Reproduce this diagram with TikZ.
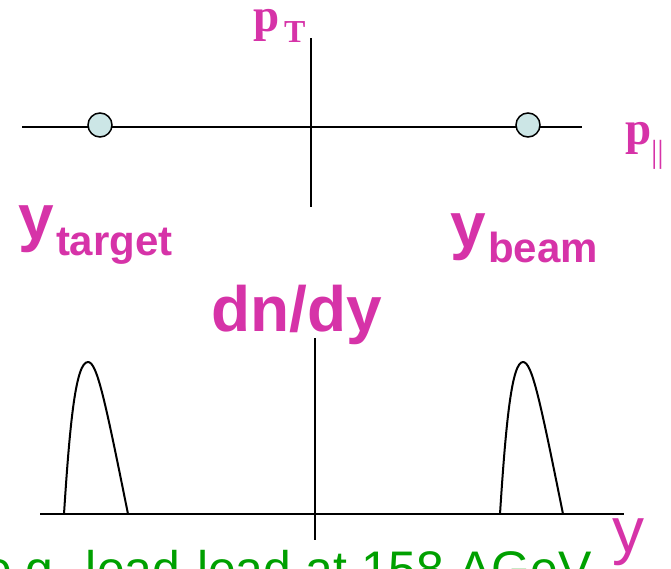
\documentclass[tikz,border=0pt]{standalone}
\usepackage{fontspec}
\setmainfont{Liberation Serif}
\newfontfamily\arialf{Liberation Sans}
\newfontfamily\timesf{Liberation Serif}
\definecolor{mag}{RGB}{214,51,168}
\definecolor{grn}{RGB}{0,160,0}
\definecolor{dotfill}{RGB}{204,230,230}
\tikzset{
  axis/.style={line width=1.5pt, black},
  peak/.style={line width=2pt, black, line join=round},
  dot/.style={circle, draw=black, line width=1.5pt, fill=dotfill, minimum size=24pt, inner sep=0pt},
  lbl/.style={inner sep=0pt, outer sep=0pt, anchor=base west, text=mag},
}
\begin{document}
\begin{tikzpicture}[x=1pt,y=-1pt]
\useasboundingbox (0,0) rectangle (671,568);
\clip (0,0) rectangle (671,568);
% top axes
\coordinate (tl) at (22,127);
\coordinate (tr) at (582,127);
\coordinate (tt) at (311,38);
\coordinate (tb) at (311,207);
\draw[axis] (tl) -- (tr);
\draw[axis] (tt) -- (tb);
\node[dot] (c1) at (100,125) {};
\node[dot] (c2) at (528,125) {};
% top labels
\node[lbl] (pT) at (253,31) {\timesf\bfseries\fontsize{47}{47}\selectfont p};
\node[lbl] (pTs) at (284,42) {\timesf\bfseries\fontsize{32}{32}\selectfont T};
\node[lbl] (pL) at (625,144) {\timesf\bfseries\fontsize{47}{47}\selectfont p};
\node[lbl] (pLs) at (651,162) {\timesf\fontsize{32}{32}\selectfont ||};
\node[lbl] (yt) at (18,239) {\arialf\bfseries\fontsize{64}{64}\selectfont y};
\node[lbl] (yts) at (56,255) {\arialf\bfseries\fontsize{42}{42}\selectfont target};
\node[lbl] (yb) at (450,247) {\arialf\bfseries\fontsize{64}{64}\selectfont y};
\node[lbl] (ybs) at (488,262) {\arialf\bfseries\fontsize{42}{42}\selectfont beam};
\node[lbl] (dndy) at (211,331) {\arialf\bfseries\fontsize{64}{64}\selectfont dn/dy};
% bottom axes
\coordinate (bl) at (40,514);
\coordinate (br) at (624,514);
\coordinate (bt) at (315,338);
\coordinate (bb) at (315,540);
\draw[axis] (bl) -- (br);
\draw[axis] (bt) -- (bb);
% peaks
\draw[peak] (64,514) .. controls (70,420) and (76,362) .. (88,362)
            .. controls (97,362) and (105,400) .. (128,514);
\draw[peak] (500,514) .. controls (506,420) and (512,362) .. (523,362)
            .. controls (532,362) and (540,400) .. (563,514);
\node[lbl] (yax) at (612,552) {\arialf\fontsize{64}{64}\selectfont y};
\node[lbl, text=grn] (note) at (-16,586) {\arialf\fontsize{50}{50}\selectfont e.g. lead-lead at 158 AGeV};
\end{tikzpicture}
\end{document}
